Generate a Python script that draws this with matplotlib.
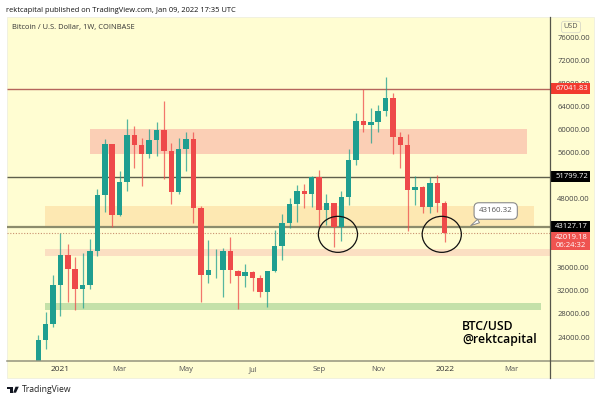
import matplotlib
matplotlib.use('Agg')
import matplotlib.pyplot as plt
from matplotlib.lines import Line2D
from matplotlib.patches import Ellipse, Polygon, Rectangle
from matplotlib.transforms import blended_transform_factory

W, H = 600, 401

# weekly candles
opens = [19150, 23500, 26250, 33000, 38150, 35750, 32300, 33050, 38900, 48600, 57450, 45150, 50900, 59000,
         57300, 55700, 58150, 59900, 56250, 49100, 56600, 58300, 46400, 34700, 35620, 35700, 38950, 35500,
         34650, 35270, 34250, 31750, 35400, 39780, 43770, 47060, 49260, 48800, 51790, 46020, 47230, 43130,
         48220, 54680, 61500, 60750, 61320, 63230, 65480, 58620, 57280, 49430, 50060, 46590, 50750, 47280]
closes = [23500, 26250, 33000, 38150, 35750, 32300, 33050, 38900, 48600, 57450, 45150, 50900, 59000, 57300,
          55700, 58150, 59900, 56250, 49100, 56600, 58300, 46400, 34700, 35570, 35700, 38950, 35570, 34650,
          35270, 34250, 31750, 35400, 39780, 43770, 47060, 49300, 48800, 51790, 46020, 47230, 43130, 48220,
          54680, 61440, 60750, 61320, 63230, 65480, 58620, 57280, 49430, 50060, 46590, 50750, 47280, 42019]
highs = [24350, 28350, 34750, 42030, 40130, 37800, 38500, 40950, 49650, 58400, 57500, 52700, 61750, 60600,
         58450, 60050, 61200, 64900, 57600, 58450, 59600, 59550, 46700, 40800, 39250, 39400, 41300, 35620,
         36650, 35450, 34700, 35500, 42550, 45300, 48150, 50350, 50450, 51900, 52950, 48800, 47300, 49300,
         56550, 62900, 67041, 63750, 64200, 69000, 66250, 59600, 59200, 51950, 50200, 51800, 52100, 47500]
lows = [17950, 21950, 25750, 27700, 30150, 28700, 29100, 32350, 38100, 45700, 43100, 45050, 49350, 53250,
        50250, 55050, 55450, 51350, 47050, 48800, 52850, 43800, 30050, 33300, 34200, 31000, 33400, 28800,
        32700, 32050, 31000, 29250, 35300, 37300, 42850, 44000, 46300, 46600, 43100, 43400, 39650, 40700,
        46900, 53800, 59500, 57700, 59500, 62300, 55650, 53350, 42400, 46900, 45450, 45550, 45700, 40500]

# levels and zones
level_values = [67041.83, 51799.72, 43127.17]
level_colors = ['#b5655c', '#5f5f4c', '#8c8c6c']
level_widths = [1.0, 1.0, 1.6]
last_price = 42019.18
zone_low = [55800, 43127, 38050, 28700]
zone_high = [60000, 46780, 39180, 29900]
zone_start = [7.0, 0.97, 0.97, 0.97]
zone_end = [66.13, 67.08, 69.18, 68.03]
zone_colors = ['#fbcfb5', '#fde8b2', '#fbdfc2', '#c4e1a9']

price_ticks = [24000, 28000, 32000, 36000, 48000, 56000, 60000, 64000, 68000, 72000, 76000]
time_pos = [3, 11, 20, 29, 38, 46, 55, 64]
time_labels = ['2021', 'Mar', 'May', 'Jul', 'Sep', 'Nov', '2022', 'Mar']

bg = '#fffdd2'
green = '#1f9e90'
red = '#ee4a4a'
plt.rcParams['font.family'] = ['Open Sans', 'DejaVu Sans']


def px(x, y):
    # pixel position to figure fraction
    return x / W, 1 - y / H


fig = plt.figure(figsize=(W / 100, H / 100), dpi=100, facecolor='white')
fig.add_artist(Rectangle(px(6.5, 378), 587 / W, 361 / H, transform=fig.transFigure, fc=bg, ec='#ececdc', lw=0.5, zorder=-1))

ax = fig.add_axes([6.5 / W, 1 - 361 / H, 543 / W, 344 / H], facecolor='none')
ax.set_xlim(-4.3, 69.18)
ax.set_ylim(19851, 79466)

for lo, hi, x0, x1, c in zip(zone_low, zone_high, zone_start, zone_end, zone_colors):
    ax.add_patch(Rectangle((x0, lo), x1 - x0, hi - lo, fc=c, ec='none', zorder=1))

ax.hlines(level_values, -4.3, 69.18, colors=level_colors, linewidths=level_widths, zorder=2)
ax.axhline(last_price, color='#c9906f', lw=0.8, ls=(0, (1, 1.5)), zorder=2)

for i in range(len(opens)):
    c = green if closes[i] >= opens[i] else red
    ax.vlines(i, lows[i], highs[i], color=c, lw=0.9, alpha=0.75, zorder=3)
    ax.bar(i, abs(closes[i] - opens[i]), bottom=min(opens[i], closes[i]), width=0.74, color=c, zorder=4)

# the two circled lows
for cx in [40.55, 54.6]:
    ax.add_patch(Ellipse((cx, 41800), 5.3, 6240, fc='none', ec='#111111', lw=0.9, zorder=5))

ax.annotate('43160.32', xy=(58.2, 43073), xytext=(61.9, 45846), fontsize=5.7, color='#555555',
            ha='center', va='center', zorder=6,
            bbox=dict(boxstyle='round,pad=0.6', fc='white', ec='#8a8a8a', lw=0.8),
            arrowprops=dict(arrowstyle='wedge,tail_width=0.5', fc='white', ec='#8a8a8a', lw=0.7))

ax.set_yticks(price_ticks)
ax.set_yticklabels(['%.2f' % v for v in price_ticks])
ax.yaxis.tick_right()
ax.set_xticks(time_pos)
ax.set_xticklabels(time_labels)
ax.tick_params(axis='y', length=0, pad=5.5, labelsize=5.5, labelcolor='#444444')
ax.tick_params(axis='x', length=0, pad=3.5, labelsize=5.5, labelcolor='#555555')
for t in ax.get_xticklabels():
    if t.get_text() in ('2021', '2022'):
        t.set_color('#333333')
        t.set_fontsize(6)
for s in ['top', 'left', 'right', 'bottom']:
    ax.spines[s].set_visible(False)

# axis frame lines
fig.add_artist(Line2D([px(6.5, 0)[0], px(593, 0)[0]], [px(0, 361)[1]] * 2, color='#94947e', lw=1.1))
fig.add_artist(Line2D([px(549.5, 0)[0]] * 2, [px(0, 17)[1], px(0, 378)[1]], color='#55554a', lw=0.9))

# price labels on the axis
trans = blended_transform_factory(ax.transAxes, ax.transData)
tag_prices = [67041.83, 51799.72, 43127.17]
tag_colors = ['#f23a2f', '#000000', '#000000']
for v, c in zip(tag_prices, tag_colors):
    ax.add_patch(Rectangle((1.0, v - 900), 0.0746, 1800, transform=trans, fc=c, ec='none', clip_on=False, zorder=7))
    ax.text(1.0107, v, '%.2f' % v, transform=trans, fontsize=5.5, color='white', va='center', ha='left', zorder=8)
ax.add_patch(Rectangle((1.0, 39030), 0.0746, 3100, transform=trans, fc='#ef5350', ec='none', clip_on=False, zorder=7))
ax.text(1.0107, 40520, '%.2f\n06:24:32' % last_price, transform=trans, fontsize=5.5, color='white', va='center', ha='left',
        linespacing=1.15, zorder=8)

# header, footer and other texts
fig.text(*px(6.5, 10.5), 'rektcapital published on TradingView.com, Jan 09, 2022 17:35 UTC', fontsize=5.45, color='#111111', va='center')
fig.text(*px(11.5, 28), 'Bitcoin / U.S. Dollar, 1W, COINBASE', fontsize=5.4, color='#333333', va='center')
fig.text(*px(571, 27), 'USD', fontsize=5.2, color='#555555', ha='center', va='center',
         bbox=dict(boxstyle='round,pad=0.3', fc=bg, ec='#d8d8c8', lw=0.6))
fig.text(*px(462, 326), 'BTC/USD', fontsize=8.8, fontweight='semibold', color='#000000', va='center')
fig.text(*px(462, 339), '@rektcapital', fontsize=8.8, fontweight='semibold', color='#000000', va='center')
fig.text(*px(21.5, 390), 'TradingView', fontsize=6.2, color='#222222', va='center')

# small logo
logo_bar = [px(6.5, 386.7), px(13, 386.7), px(13, 392.7), px(9.8, 392.7), px(9.8, 389.4), px(6.5, 389.4)]
logo_slant = [px(15.5, 386.7), px(18.8, 386.7), px(16, 392.7), px(13.2, 392.7)]
fig.add_artist(Polygon(logo_bar, closed=True, transform=fig.transFigure, fc='#131722', ec='none'))
fig.add_artist(Polygon(logo_slant, closed=True, transform=fig.transFigure, fc='#131722', ec='none'))

fig.savefig('out.png', dpi=100)
